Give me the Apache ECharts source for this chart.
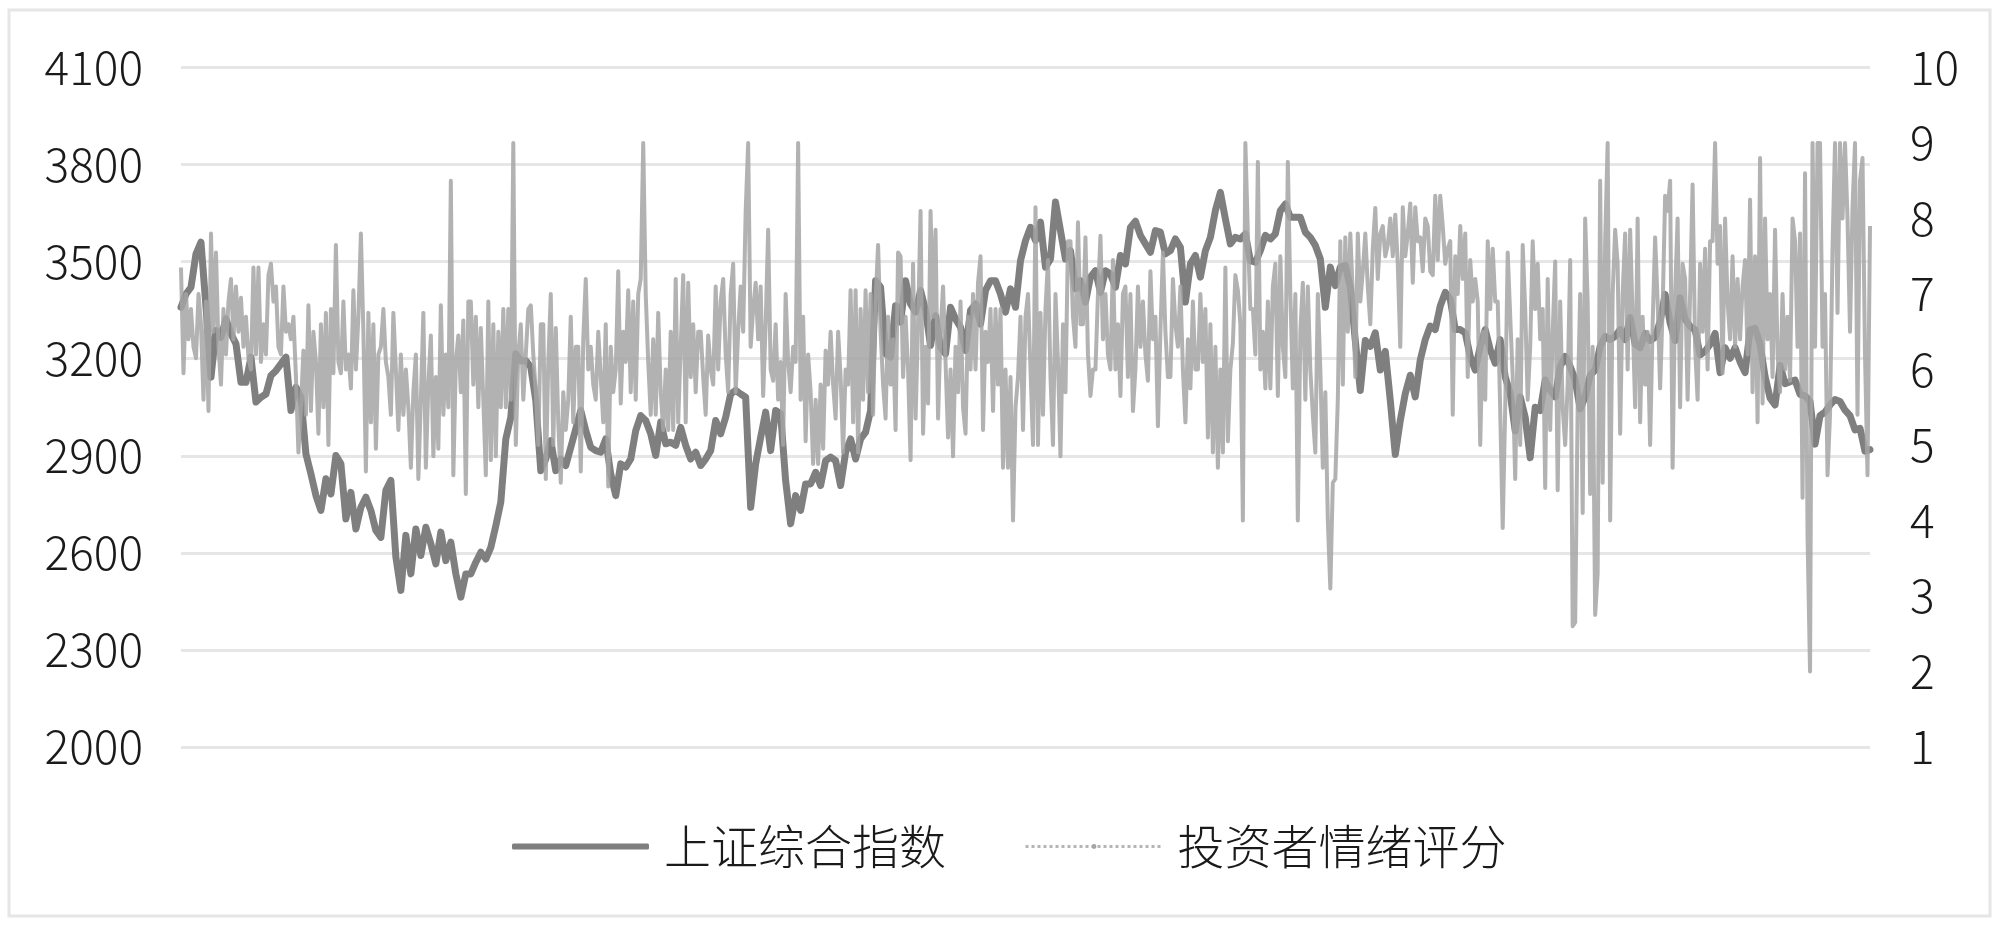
<!DOCTYPE html>
<html>
<head>
<meta charset="utf-8">
<title>上证综合指数与投资者情绪评分</title>
<script src="https://cdn.jsdelivr.net/npm/echarts@6/dist/echarts.min.js"></script>
<style>
  html, body { margin: 0; padding: 0; background: #fff; }
  #chart { width: 2000px; height: 930px; }
</style>
</head>
<body>
<div id="chart"></div>
<script>
const seriesNames = ['上证综合指数', '投资者情绪评分']
const leftTicks = [2000, 2300, 2600, 2900, 3200, 3500, 3800, 4100]

const indexValues = [
  3359, 3400, 3421, 3524, 3560, 3360, 3143, 3287, 3266, 3323, 3277, 3246, 3127, 3127, 3205, 3066, 3081, 3091, 3148, 3163,
  3184, 3205, 3040, 3112, 3081, 2906, 2844, 2777, 2731, 2829, 2782, 2901, 2875, 2705, 2787, 2674, 2741, 2772, 2731, 2669,
  2648, 2793, 2824, 2587, 2484, 2654, 2535, 2674, 2592, 2679, 2628, 2566, 2664, 2576, 2633, 2535, 2463, 2535,
  2535, 2571, 2602, 2581, 2617, 2684, 2757, 2952, 3019, 3215, 3194, 3194, 3174, 3071, 2854, 2890, 2947, 2854, 2890, 2870,
  2926, 2983, 3040, 2978, 2926, 2916, 2911, 2952, 2844, 2777, 2875, 2865, 2890, 2978, 3024, 3009, 2968, 2901, 3004, 2937,
  2942, 2932, 2988, 2932, 2890, 2911, 2870, 2890, 2916, 3009, 2968, 3019, 3091, 3102, 3091, 3081, 2741, 2875, 2957, 3035,
  2916, 3040, 3030, 2823, 2690, 2777, 2731, 2813, 2813, 2849, 2808, 2885, 2896, 2885, 2808, 2911, 2952, 2890, 2952, 2973,
  3040, 3441, 3421, 3215, 3205, 3364, 3313, 3441, 3369, 3344, 3411, 3349, 3241, 3333, 3235, 3215, 3359, 3323, 3297, 3225,
  3349, 3369, 3307, 3411, 3441, 3441, 3400, 3344, 3416, 3359, 3503, 3565, 3606, 3565, 3622, 3483, 3508, 3684, 3596, 3508,
  3534, 3416, 3441, 3375, 3452, 3472, 3405, 3472, 3462, 3421, 3519, 3493, 3606, 3625, 3581, 3555, 3529, 3596, 3591, 3524,
  3534, 3570, 3544, 3375, 3493, 3519, 3452, 3534, 3575, 3658, 3714, 3632, 3555, 3575, 3570, 3586, 3503, 3498, 3534, 3581,
  3570, 3586, 3658, 3678, 3637, 3637, 3637, 3591, 3575, 3550, 3508, 3359, 3483, 3426, 3483, 3488, 3421, 3256, 3102, 3256,
  3238, 3280, 3165, 3223, 3071, 2904, 3009, 3092, 3149, 3082, 3196, 3259, 3301, 3290, 3363, 3405, 3384, 3290, 3290, 3280,
  3207, 3165, 3238, 3290, 3228, 3186, 3259, 3144, 3092, 2977, 3082, 3019, 2894, 3050, 3040, 3134, 3103, 3082, 3176, 3207,
  3176, 3134, 3045, 3082, 3149, 3165, 3238, 3269, 3259, 3269, 3290, 3259,
  3327, 3245, 3234, 3278, 3256, 3267, 3316, 3399, 3311, 3256, 3388, 3322, 3300, 3289, 3212, 3223, 3245, 3278, 3157, 3234,
  3201, 3234, 3190, 3157, 3289, 3294, 3245, 3145, 3079, 3057, 3179, 3123, 3129, 3134, 3090, 3085, 3068, 2936, 3024, 3035,
  3057, 3074, 3068, 3041, 3024, 2980, 2985, 2914, 2919
]

const sentimentValues = [
  7.35, 5.95, 7.0, 6.4, 6.8, 6.3, 6.15, 7.0, 6.6, 5.6, 6.9, 5.45, 7.8, 6.5, 7.55, 6.3, 5.8, 6.8, 6.2, 6.9,
  7.2, 6.4, 7.1, 6.5, 6.95, 6.3, 6.7, 6.15, 6.0, 7.35, 6.2, 7.35, 6.1, 6.6, 6.2, 7.25, 7.4, 6.9, 7.1, 6.3,
  6.2, 7.1, 6.5, 6.6, 6.4, 6.7, 5.9, 4.9, 5.5, 6.25, 5.4, 6.85, 5.45, 6.5, 6.1, 5.15, 6.6, 5.5, 6.75, 5.0,
  6.8, 5.95, 7.65, 6.1, 5.95, 6.9, 6.0, 6.2, 5.75, 7.05, 6.0, 6.7, 7.8, 6.5, 4.65, 6.75, 5.3, 6.6, 4.95, 6.2,
  6.3, 6.8, 6.1, 5.9, 5.4, 6.75, 6.0, 5.2, 6.2, 5.4, 6.0, 5.5, 4.7, 5.7, 6.2, 4.55, 5.6, 6.75, 4.7, 5.8,
  6.45, 4.85, 5.9, 4.95, 6.85, 5.4, 6.2, 5.5, 8.5, 4.6, 6.1, 6.45, 5.7, 6.65, 4.35, 6.9,
  6.9, 5.8, 6.7, 5.5, 6.55, 5.6, 4.6, 6.9, 4.8, 6.6, 4.85, 6.5, 5.5, 6.8, 5.5, 6.8, 5.6, 9.0, 5.0, 6.2,
  6.6, 5.6, 6.2, 6.8, 6.85, 6.2, 5.7, 5.0, 6.6, 6.6, 4.55, 6.1, 7.0, 5.0, 6.55, 5.3, 4.5, 5.7, 5.2, 5.6,
  6.7, 5.3, 6.3, 6.3, 4.65, 6.4, 7.2, 6.0, 6.3, 5.8, 5.6, 6.5, 5.9, 5.3, 6.6, 4.45, 6.3, 5.7, 6.0, 7.3,
  5.55, 6.5, 6.1, 7.05, 5.7, 6.9, 5.6, 7.0, 7.2, 9.0, 7.0, 6.1, 5.4, 6.4, 5.4, 6.75, 5.7, 5.2, 6.0, 5.2,
  6.5, 5.2, 7.2, 5.3, 6.3, 7.25, 5.3, 7.15, 5.9, 6.6, 5.7, 6.5, 6.5, 5.9, 5.4, 6.45, 6.0, 5.8, 7.1, 6.0,
  6.9, 7.2, 6.2, 5.7, 7.0, 7.4, 5.7, 6.5, 7.1, 6.5, 8.1, 9.0, 6.3, 6.8, 7.15, 6.4, 7.1, 5.65, 6.6, 7.85,
  6.0, 5.85, 6.6, 5.6, 6.1, 5.0, 7.0, 6.1, 5.7, 6.3, 6.1, 9.0, 5.6, 6.7, 5.05, 6.2, 5.7, 4.75, 5.6, 4.75,
  5.8, 4.95, 6.25, 5.8, 6.5, 5.8, 5.35, 6.5, 5.9, 4.9, 6.0, 5.8, 7.05, 5.3, 7.05, 4.9, 6.8, 5.6, 7.05, 5.7,
  7.0, 5.4, 6.9, 7.65, 6.5, 5.8, 5.35, 6.7, 5.8, 6.4, 5.2, 7.55, 7.5, 5.9, 6.7, 6.0, 4.8, 7.4, 5.35, 6.6,
  8.1, 5.15, 6.3, 5.55, 8.1, 6.7, 7.85, 5.35, 6.5, 7.1, 6.1, 5.1, 6.0, 4.85, 6.3, 5.7, 6.9, 5.5, 5.15, 6.7,
  6.0, 7.0, 6.0, 7.15, 7.5, 5.2, 6.5, 6.1, 6.8, 5.45, 6.8, 5.8, 6.8, 4.7, 6.0, 4.7, 5.9, 4.0, 5.5, 5.9,
  6.7, 5.2, 6.7, 7.0, 6.0, 5.0, 8.15, 5.0, 6.75, 5.4, 6.8, 7.45, 5.9, 5.0, 7.0, 6.1, 4.85, 6.6, 5.7, 7.7,
  7.7, 6.7, 6.3, 7.95, 6.6, 6.6, 7.75, 6.2, 5.65, 6.0, 6.0, 7.0, 7.77, 6.4, 7.0, 6.2, 6.0, 7.45, 6.0, 6.6,
  5.65, 7.0, 7.1, 5.9, 7.0, 5.45, 6.0, 7.1, 6.3, 6.9, 6.2, 5.85, 7.3, 6.4, 6.7, 5.25, 6.5, 7.55, 6.5, 5.9,
  5.9, 7.2, 6.6, 6.3, 7.1, 6.0, 5.3, 6.4, 5.75, 6.9, 6.0, 6.0, 7.0, 6.1, 6.8, 5.1, 6.6, 4.9, 6.3, 4.7,
  6.0, 4.9, 7.35, 5.05, 6.0, 6.35, 7.25, 7.05, 6.6, 4.0, 9.0, 7.8, 6.8, 6.8, 6.2, 8.75, 6.0, 6.5, 5.75, 6.9,
  5.75, 7.1, 7.4, 5.65, 7.5, 6.3, 5.9, 8.75, 7.0, 5.75, 7.0, 4.0, 6.5, 7.15, 5.6, 7.1, 6.0, 5.4, 4.9, 7.0,
  6.0, 4.7, 5.7, 4.0, 3.1, 4.5, 4.55, 5.6, 7.7, 5.8, 7.75, 6.5, 7.8, 7.0, 5.9, 7.8, 6.9, 7.3, 7.8, 7.1,
  6.6, 7.6, 8.14, 7.2, 7.8, 7.9, 7.5, 7.65, 8.0, 7.5, 8.05, 7.4, 6.3, 8.15, 7.5, 7.8, 8.2, 7.15, 8.15, 7.7,
  7.75, 7.3, 8.0, 7.9, 7.3, 7.25, 8.3, 7.45, 8.3, 7.9, 7.4, 7.6, 7.7, 5.4, 7.5, 7.0, 7.9, 7.2, 7.8, 5.9,
  7.45, 6.9, 7.2, 6.9, 5.0, 6.5, 5.6, 7.7, 6.8, 7.6, 6.9, 6.9, 5.45, 3.9, 5.5, 7.55, 6.7, 5.9, 4.55, 6.4,
  5.0, 7.65, 6.8, 5.6, 6.3, 7.7, 6.8, 7.4, 6.4, 6.8, 4.43, 7.2, 5.2, 6.5, 7.43, 4.4, 6.9, 5.5, 5.0, 5.8,
  7.45, 2.6, 2.65, 5.5, 7.0, 4.1, 8.0, 6.9, 4.35, 6.3, 2.75, 3.3, 8.5, 4.5, 7.7, 9.0, 4.0, 7.0, 7.85, 7.4,
  5.15, 7.0, 7.8, 6.0,
  7.85, 6.7, 5.5, 8.0, 5.3, 6.7, 5.8, 6.5, 5.0, 6.6, 7.75, 6.9, 5.75, 6.8, 8.3, 8.1, 8.5, 4.7, 7.0, 8.0,
  5.5, 7.4, 7.2, 5.6, 7.0, 8.45, 6.3, 5.6, 7.4, 6.5, 7.6, 6.0, 7.7, 7.7, 9.0, 7.4, 7.9, 5.95, 8.0, 6.9,
  6.4, 7.5, 6.3, 7.2, 6.4, 7.1, 7.45, 6.2, 8.25, 5.7, 7.5, 5.3, 8.8, 5.55, 8.0, 6.4, 7.0, 5.9, 7.85, 6.2,
  5.7, 7.0, 6.0, 6.7, 5.85, 8.0, 7.7, 6.3, 7.8, 4.3, 8.6, 3.8, 2.0, 9.0, 6.3, 9.0, 9.0, 6.3, 7.0, 4.6,
  5.4, 7.6, 9.0, 6.75, 9.0, 8.0, 9.0, 8.0, 6.5, 8.15, 9.0, 5.4, 8.5, 8.8, 6.2, 4.6, 7.9
]

const chart = echarts.init(document.getElementById('chart'))
const labelFont = {
  color: '#1a1a1a',
  fontFamily: '"Noto Sans CJK SC", "Liberation Sans", sans-serif',
  fontWeight: 300,
  fontSize: 46
}

chart.setOption({
  animation: false,
  backgroundColor: '#ffffff',
  graphic: [{
    type: 'rect',
    silent: true,
    shape: { x: 9, y: 10, width: 1981, height: 906 },
    style: { fill: 'none', stroke: '#e6e6e6', lineWidth: 3 }
  }],
  grid: { left: 181, right: 130, top: 67.5, bottom: 183 },
  legend: {
    left: 507,
    top: 818,
    itemWidth: 137,
    itemHeight: 6,
    itemGap: 78,
    textStyle: {
      color: '#1a1a1a',
      fontFamily: '"Noto Sans CJK SC", sans-serif',
      fontWeight: 300,
      fontSize: 47,
      padding: [0, 0, 0, 10]
    },
    data: [
      { name: seriesNames[0], icon: 'roundRect', itemStyle: { color: '#7f7f7f' } },
      {
        name: seriesNames[1],
        lineStyle: { type: 'dotted', color: '#b5b5b5', width: 3, opacity: 1 }
      }
    ]
  },
  xAxis: { type: 'value', min: 0, max: 676, show: false },
  yAxis: [
    {
      type: 'value',
      min: 2000,
      max: 4100,
      axisLine: { show: false },
      axisTick: { show: false, customValues: leftTicks },
      axisLabel: Object.assign({ margin: 38, customValues: leftTicks, formatter: v => String(v) }, labelFont),
      splitLine: { show: true, lineStyle: { color: '#e6e6e6', width: 3 } }
    },
    {
      type: 'value',
      min: 1,
      max: 10,
      interval: 1,
      axisLine: { show: false },
      axisTick: { show: false },
      axisLabel: Object.assign({ margin: 40 }, labelFont),
      splitLine: { show: false }
    }
  ],
  series: [
    {
      name: seriesNames[0],
      type: 'line',
      yAxisIndex: 0,
      symbol: 'none',
      lineStyle: { color: '#7f7f7f', width: 7, cap: 'round', join: 'round' },
      itemStyle: { color: '#7f7f7f' },
      data: indexValues.map((v, i) => [i * 2, v])
    },
    {
      name: seriesNames[1],
      type: 'line',
      yAxisIndex: 1,
      symbol: 'none',
      lineStyle: { color: '#a5a5a5', width: 4, opacity: 0.85, join: 'round' },
      itemStyle: { color: '#a5a5a5' },
      data: sentimentValues.map((v, i) => [i, v])
    }
  ]
})
</script>
</body>
</html>
